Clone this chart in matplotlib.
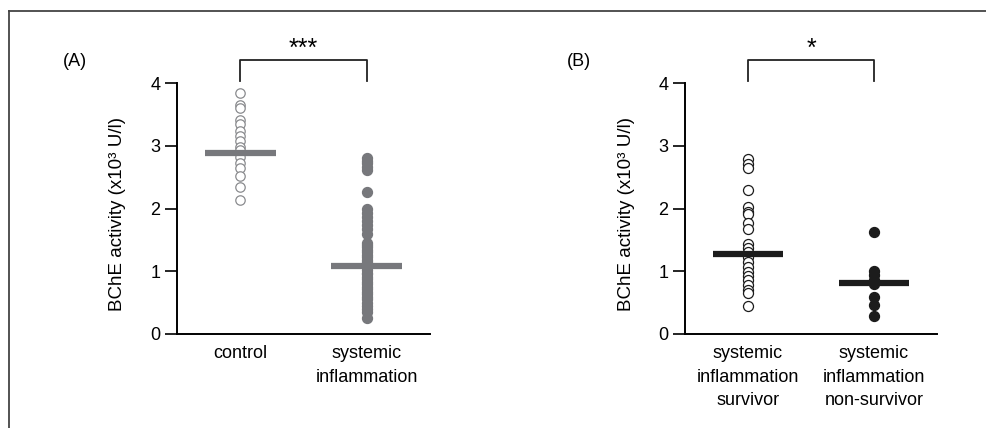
import numpy as np
import matplotlib.pyplot as plt
from matplotlib.lines import Line2D

plt.style.use({
    'font.family': 'sans-serif',
    'font.sans-serif': ['Liberation Sans'],
    'font.size': 13,
    'axes.linewidth': 1.4,
})

# values (x10^3 U/l)
control = [3.84, 3.65, 3.60, 3.41, 3.35, 3.23, 3.15, 3.08, 2.98, 2.93,
           2.82, 2.73, 2.64, 2.52, 2.35, 2.13]
systemic = [2.80, 2.76, 2.72, 2.66, 2.62, 2.26, 1.99, 1.93, 1.87, 1.80,
            1.74, 1.67, 1.60, 1.45, 1.42, 1.38, 1.34, 1.30, 1.26, 1.22,
            1.18, 1.14, 1.10, 1.06, 1.02, 0.98, 0.95, 0.91, 0.87, 0.83,
            0.79, 0.75, 0.71, 0.67, 0.63, 0.59, 0.55, 0.50, 0.45, 0.40,
            0.35, 0.26]
survivor = [2.79, 2.71, 2.64, 2.29, 2.03, 1.95, 1.91, 1.77, 1.67, 1.43,
            1.37, 1.30, 1.23, 1.15, 1.07, 0.99, 0.92, 0.86, 0.78, 0.70,
            0.65, 0.44]
non_survivor = [1.62, 1.00, 0.94, 0.86, 0.80, 0.59, 0.46, 0.28]

means_a = [2.89, 1.09]
means_b = [1.27, 0.82]

labels_a = ['control', 'systemic\ninflammation']
labels_b = ['systemic\ninflammation\nsurvivor', 'systemic\ninflammation\nnon-survivor']
stars = ['***', '*']
panel_tags = ['(A)', '(B)']
yticks = [0, 1, 2, 3, 4]

gray = '#77787c'
light_gray = '#8a8b8e'
black = '#1c1c1c'

fig = plt.figure(figsize=(9.87, 4.28), dpi=100)
W, H = 987, 428


def add_axes_px(left, right, bottom, top):
    return fig.add_axes([left / W, 1 - bottom / H, (right - left) / W, (bottom - top) / H])


ax_a = add_axes_px(177, 430, 334, 83)
ax_b = add_axes_px(685, 937, 334, 83)

groups = [
    (ax_a, [control, systemic], means_a, labels_a,
     [dict(facecolor='white', edgecolor=light_gray), dict(facecolor=gray, edgecolor=gray)], gray),
    (ax_b, [survivor, non_survivor], means_b, labels_b,
     [dict(facecolor='white', edgecolor=black), dict(facecolor=black, edgecolor=black)], black),
]

for i, (ax, data, means, labels, styles, barcol) in enumerate(groups):
    for j, vals in enumerate(data):
        size = 46 if (i == 0 and j == 0) else 52
        ax.scatter(np.full(len(vals), j), vals, s=size, linewidths=0.9,
                   zorder=3, clip_on=False, **styles[j])
        ax.plot([j - 0.28, j + 0.28], [means[j], means[j]], color=barcol,
                linewidth=4.5, solid_capstyle='butt', zorder=4)

    ax.set_xlim(-0.5, 1.5)
    ax.set_ylim(0, 4)
    ax.set_yticks(yticks)
    ax.set_xticks([0, 1])
    ax.set_xticklabels(labels, linespacing=1.5)
    ax.tick_params(axis='x', length=0, pad=8)
    ax.tick_params(axis='y', length=8.5, width=1.2, pad=3.5)
    for side in ['top', 'right']:
        ax.spines[side].set_visible(False)
    ax.spines['left'].set_bounds(0, 4)
    ax.set_ylabel('BChE activity (x10\u00b3 U/l)', fontsize=13.5)
    ax.yaxis.set_label_coords(-0.2, 0.48)

    # significance bracket
    ax.plot([0, 0, 1, 1], [4.03, 4.37, 4.37, 4.03], color='#222222',
            linewidth=1.3, clip_on=False)
    ax.text(0.5, 4.43, stars[i], ha='center', va='baseline', fontsize=18, clip_on=False)

fig.text(75 / W, 1 - 62 / H, panel_tags[0], ha='center', va='center', fontsize=13)
fig.text(579 / W, 1 - 62 / H, panel_tags[1], ha='center', va='center', fontsize=13)

# frame lines of the original figure box
fig.add_artist(Line2D([9 / W, 1], [1 - 11 / H, 1 - 11 / H], color='#444444', linewidth=1.3))
fig.add_artist(Line2D([9 / W, 9 / W], [0, 1 - 11 / H], color='#444444', linewidth=1.3))

fig.savefig('out.png', dpi=100)
